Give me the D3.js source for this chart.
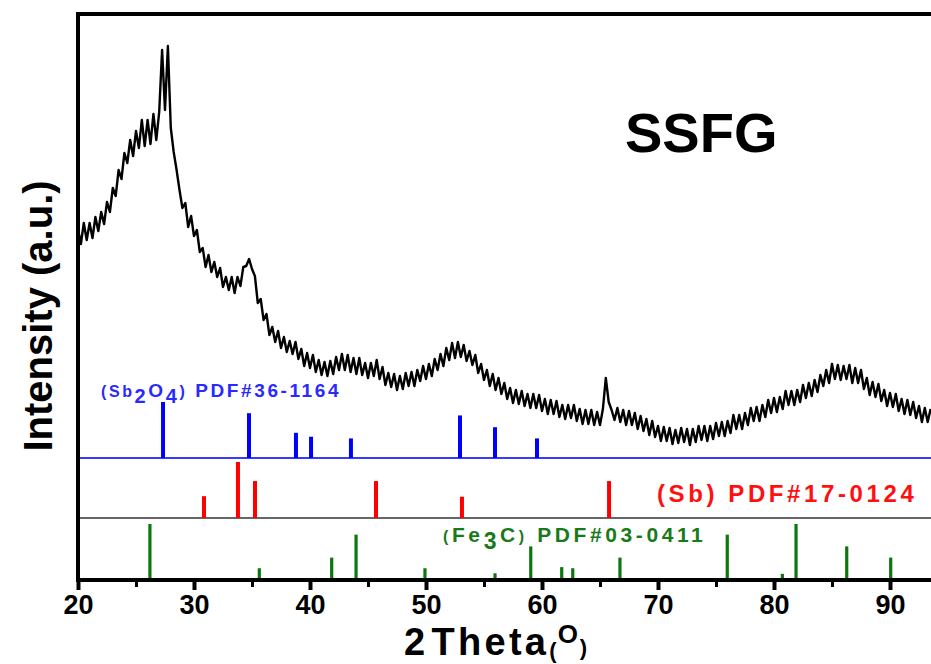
<!DOCTYPE html>
<html><head><meta charset="utf-8">
<script src="https://cdn.jsdelivr.net/npm/d3@7"></script>
<style>
body{margin:0;background:#fff}
svg text{font-family:Arial,"Liberation Sans",sans-serif;font-weight:bold}
</style>
</head><body><svg id="c" width="931" height="664"></svg>
<script>
// ---- data ----
const twoThetaStart = 20, twoThetaStep = 0.25;
const intensity = [
351,336,357,340, 357,342,363,349, 368,356,378,368, 392,384,410,401,
427,417,440,424, 449,432,460,434, 460,436,466,440, 468,530,470,534,
452,428,410,390, 372,377,353,364, 344,350,328,332, 313,325,308,318,
303,312,293,303, 290,303,287,303, 294,313,314,321, 311,304,277,281,
260,266,245,253, 238,249,232,243, 228,239,226,238, 221,231,214,227,
212,225,208,220, 205,218,204,219, 206,223,210,226, 210,225,208,222,
206,222,205,217, 202,217,204,220, 201,213,195,207, 193,206,190,204,
191,207,194,208, 194,210,199,214, 201,216,204,221, 210,226,214,232,
220,237,222,238, 223,235,219,229, 215,225,207,216, 200,210,194,206,
190,202,186,197, 181,192,177,190, 176,189,174,186, 172,186,172,185,
169,181,166,180, 166,179,163,175, 161,175,162,175, 159,171,156,170,
156,170,155,168, 155,171,202,178, 170,160,172,158, 170,155,169,155,
167,151,164,149, 161,145,159,143, 154,139,153,139, 152,136,150,137,
152,138,151,135, 151,138,154,140, 154,139,154,141, 157,144,158,144,
159,147,165,151, 165,151,167,155, 172,159,173,159, 175,163,180,167,
182,168,183,171, 189,175,189,175, 190,178,195,182, 197,184,200,188,
205,194,210,197, 216,201,215,200, 214,201,215,197, 212,197,210,191,
202,185,198,183, 196,179,190,174, 187,173,186,169, 181,166,180,165,
178,162,174,158, 172,158,171
];
const xTicks = [20,30,40,50,60,70,80,90];
const xMinorTicks = [25,35,45,55,65,75,85,95];

const sb2o4Pos = [27.33,34.74,38.79,40.09,43.53,52.93,55.95,59.57];
const sb2o4Int = [100,80,45,38,35,76,55,35];
const sbPos = [30.86,33.79,35.26,45.69,53.1,65.78];
const sbInt = [39,100,66,66,38,66];
const fe3cPos = [26.2,35.63,41.87,43.97,49.91,55.95,59.03,61.7,62.65,66.72,75.97,80.72,81.9,86.27,90.06];
const fe3cInt = [100,21,40,81,21,12,60,23,21,40,81,11,100,60,40];

// ---- drawing ----
const svg = d3.select("#c");
svg.append("rect").attr("width",931).attr("height",664).attr("fill","#fff");
const x = d3.scaleLinear([20,95],[78,948]);
const y = d3.scaleLinear([0,566],[580,14]);

svg.append("clipPath").attr("id","clip").append("rect")
  .attr("x",78).attr("y",14).attr("width",853).attr("height",566);
const plot = svg.append("g").attr("clip-path","url(#clip)");

const pts = intensity.map((v,i)=>[twoThetaStart+i*twoThetaStep, v]);
plot.append("path").datum(pts)
  .attr("fill","none").attr("stroke","#000").attr("stroke-width",2.4)
  .attr("stroke-linejoin","round")
  .attr("d", d3.line().x(d=>x(d[0])).y(d=>y(d[1])));

// reference patterns
const stickUnit = 0.56;
const patterns = [
  {pos: sb2o4Pos, val: sb2o4Int, base: 122, color: "#0000ff", w: 4},
  {pos: sbPos, val: sbInt, base: 62, color: "#ff0000", w: 4},
  {pos: fe3cPos, val: fe3cInt, base: 0, color: "#0a780a", w: 3.2}
];
plot.append("line").attr("x1",78).attr("x2",931)
  .attr("y1",y(122)).attr("y2",y(122)).attr("stroke","#3a3aff").attr("stroke-width",2);
plot.append("line").attr("x1",78).attr("x2",931)
  .attr("y1",y(62)).attr("y2",y(62)).attr("stroke","#333").attr("stroke-width",1.6);

patterns.forEach(p=>{
  plot.append("g").selectAll("line").data(p.pos).join("line")
    .attr("x1",d=>x(d)).attr("x2",d=>x(d))
    .attr("y1",y(p.base))
    .attr("y2",(d,i)=>y(p.base + p.val[i]*stickUnit))
    .attr("stroke",p.color).attr("stroke-width",p.w);
});

// frame
svg.append("line").attr("x1",76).attr("x2",931).attr("y1",14).attr("y2",14)
  .attr("stroke","#000").attr("stroke-width",4);
svg.append("line").attr("x1",78).attr("x2",78).attr("y1",12).attr("y2",582)
  .attr("stroke","#000").attr("stroke-width",4);

// x axis
const gx = svg.append("g").attr("transform","translate(0,580)");
gx.call(d3.axisBottom(x).tickValues(xMinorTicks).tickSize(7).tickSizeOuter(0).tickFormat(""));
gx.selectAll(".tick line").attr("stroke-width",3);
gx.select(".domain").remove();
const gx2 = svg.append("g").attr("transform","translate(0,580)");
gx2.call(d3.axisBottom(x).tickValues(xTicks).tickSize(10).tickSizeOuter(0).tickPadding(5));
gx2.select(".domain").attr("stroke-width",4).attr("d","M76,0H931");
gx2.selectAll(".tick line").attr("stroke-width",4);
gx2.selectAll(".tick text").attr("font-size",27).attr("font-family","Arial, 'Liberation Sans', sans-serif")
  .attr("font-weight","bold").attr("fill","#000");

// axis titles
const xt = svg.append("text").attr("x",404).attr("y",655).attr("font-size",38).attr("fill","#000")
  .attr("letter-spacing",3.3);
xt.append("tspan").text("2");
xt.append("tspan").attr("dx",3).text("Theta");
xt.append("tspan").attr("font-size",22).attr("dy",3).attr("letter-spacing",1).text("(");
xt.append("tspan").attr("font-size",26).attr("dy",-15).attr("letter-spacing",2).text("O");
xt.append("tspan").attr("font-size",22).attr("dy",12).text(")");

svg.append("text").attr("transform","translate(52,316) rotate(-90)")
  .attr("text-anchor","middle").attr("font-size",40).attr("fill","#000")
  .text("Intensity (a.u.)");

svg.append("text").attr("x",625).attr("y",152).attr("font-size",56).attr("fill","#000").text("SSFG");

// legends
const lb = svg.append("text").attr("x",101).attr("y",397).attr("font-size",19)
  .attr("fill","#2a2aff").attr("letter-spacing",2.6);
lb.append("tspan").attr("font-size",16).text("(Sb");
lb.append("tspan").attr("font-size",20).attr("dy",6).text("2");
lb.append("tspan").attr("dy",-6).text("O");
lb.append("tspan").attr("font-size",20).attr("dy",6).text("4");
lb.append("tspan").attr("font-size",16).attr("dy",-6).text(")");
lb.append("tspan").text(" PDF#36-1164");

svg.append("text").attr("x",657).attr("y",502).attr("font-size",24)
  .attr("fill","#ff1010").attr("letter-spacing",3.6).text("(Sb) PDF#17-0124");

const lg = svg.append("text").attr("x",443).attr("y",542).attr("font-size",21)
  .attr("fill","#1a7a1a").attr("letter-spacing",3.6);
lg.append("tspan").attr("font-size",16).text("(");
lg.append("tspan").text("Fe");
lg.append("tspan").attr("font-size",23).attr("dy",7).text("3");
lg.append("tspan").attr("dy",-7).text("C");
lg.append("tspan").attr("font-size",16).text(")");
lg.append("tspan").text(" PDF#03-0411");
</script></body></html>
